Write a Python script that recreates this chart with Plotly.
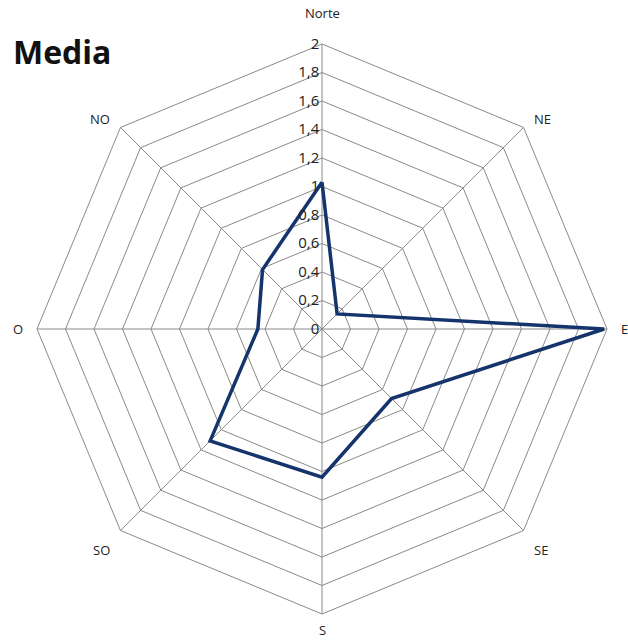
import math
import plotly.graph_objects as go

directions = ["Norte", "NE", "E", "SE", "S", "SO", "O", "NO"]
media = [1.03, 0.15, 1.98, 0.69, 1.04, 1.11, 0.45, 0.59]
tick_vals = [0, 0.2, 0.4, 0.6, 0.8, 1, 1.2, 1.4, 1.6, 1.8, 2]
tick_text = ["0", "0,2", "0,4", "0,6", "0,8", "1", "1,2", "1,4", "1,6", "1,8", "2"]

W, H = 628, 643
# polar area in figure pixels
CX, CY, RAD = 322, 329, 285
GAP = 12

fig = go.Figure()
fig.add_trace(go.Scatterpolar(
    r=media + media[:1],
    theta=directions + directions[:1],
    mode="lines",
    line=dict(color="#14346b", width=3.5),
    showlegend=False,
))

annotations = [dict(
    text="<b>Media</b>", x=11/W, y=1-52/H, xref="paper", yref="paper",
    xanchor="left", yanchor="middle", showarrow=False,
    font=dict(size=32, color="#111", family="Open Sans, Liberation Sans, Arial, sans-serif"),
)]
n = len(directions)
for i, d in enumerate(directions):
    a = 2 * math.pi * i / n
    ux, uy = math.sin(a), math.cos(a)  # uy positive = up
    if uy > 0.9:
        gap = GAP + 8
    elif uy < -0.9:
        gap = 5
    else:
        gap = GAP
    px = CX + (RAD + gap) * ux
    py = CY - (RAD + gap) * uy
    xa = "left" if ux > 0.5 else ("right" if ux < -0.5 else "center")
    if uy > 0.9:
        ya = "bottom"
    elif uy < -0.5:
        ya = "top"
    else:
        ya = "middle"
    annotations.append(dict(
        text=d, x=px/W, y=1-py/H, xref="paper", yref="paper",
        xanchor=xa, yanchor=ya, showarrow=False,
        font=dict(size=13, color="#222", family="Open Sans, Liberation Sans, Arial, sans-serif"),
    ))

fig.update_layout(
    width=W, height=H,
    margin=dict(l=0, r=0, t=0, b=0),
    paper_bgcolor="white",
    separators=", ",
    font=dict(family="Open Sans, Liberation Sans, Arial, sans-serif", color="#222", size=13),
    polar=dict(
        domain=dict(x=[(CX-RAD)/W, (CX+RAD)/W], y=[1-(CY+RAD)/H, 1-(CY-RAD)/H]),
        gridshape="linear",
        bgcolor="white",
        radialaxis=dict(
            range=[0, 2],
            tickvals=tick_vals,
            ticktext=tick_text,
            angle=90,
            tickangle=90,
            side="counterclockwise",
            showline=False,
            ticks="",
            gridcolor="#8a8a8a",
            gridwidth=1,
            tickfont=dict(size=15, color="#222"),
        ),
        angularaxis=dict(
            direction="clockwise",
            rotation=90,
            showline=True,
            showticklabels=False,
            linecolor="#8a8a8a",
            gridcolor="#8a8a8a",
            ticks="",
        ),
    ),
    annotations=annotations,
)

fig.write_html(
    "out.html",
    config={"displayModeBar": False},
    post_script="document.body.style.margin='0';document.body.style.overflow='hidden';",
)
